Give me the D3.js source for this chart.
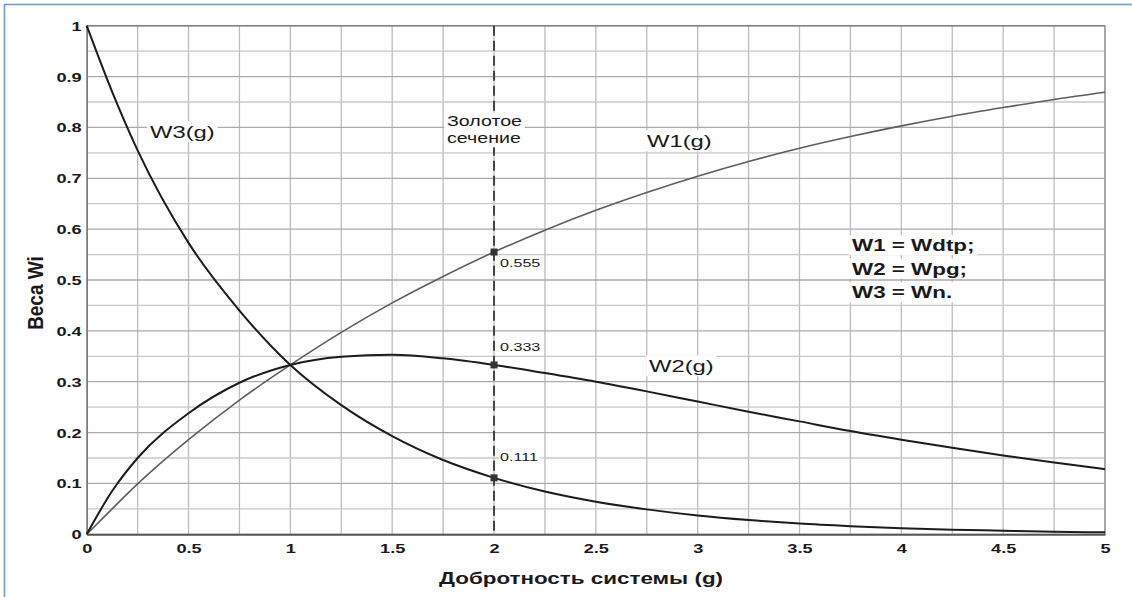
<!DOCTYPE html>
<html>
<head>
<meta charset="utf-8">
<script src="https://cdn.jsdelivr.net/npm/d3@7"></script>
<style>
  html, body { margin: 0; padding: 0; background: #fff; }
  svg { display: block; }
  text { font-family: "Liberation Sans", Arial, sans-serif; fill: #1a1a1a; }
</style>
</head>
<body>
<svg id="chart" width="1132" height="597"></svg>
<script>
// Quality factor of the system (g) and the three weights
const gValues = [0, 0.125, 0.25, 0.5, 0.75, 1, 1.25, 1.5, 1.75, 2, 2.25, 2.5, 2.75, 3, 3.25, 3.5, 3.75, 4, 4.25, 4.5, 4.75, 5];
const w1Values = [0, 0.050, 0.099, 0.186, 0.264, 0.333, 0.397, 0.455, 0.507, 0.555, 0.598, 0.637, 0.672, 0.704, 0.733, 0.759, 0.782, 0.803, 0.822, 0.839, 0.855, 0.869];
const w2Values = [0, 0.085, 0.150, 0.238, 0.298, 0.333, 0.349, 0.353, 0.346, 0.333, 0.317, 0.300, 0.281, 0.261, 0.241, 0.222, 0.203, 0.186, 0.170, 0.155, 0.141, 0.128];
const w3Values = [1, 0.870, 0.755, 0.573, 0.440, 0.333, 0.254, 0.193, 0.146, 0.111, 0.084, 0.064, 0.049, 0.037, 0.028, 0.021, 0.016, 0.012, 0.009, 0.007, 0.005, 0.004];

// Golden section point
const goldenG = 2;
const goldenValues = [0.555, 0.333, 0.111];
const goldenLabels = ["0.555", "0.333", "0.111"];

// Axis ticks
const xTickValues = [0, 0.5, 1, 1.5, 2, 2.5, 3, 3.5, 4, 4.5, 5];
const yTickValues = [0, 0.1, 0.2, 0.3, 0.4, 0.5, 0.6, 0.7, 0.8, 0.9, 1];
const xGridValues = d3.range(0, 5.001, 0.25);
const yGridValues = d3.range(0, 1.0001, 0.05);

const legendLines = ["W1 = Wdtp;", "W2 = Wpg;", "W3 = Wn."];
const xTitle = "Добротность системы (g)";
const yTitle = "Веса Wi";

const svg = d3.select("#chart");
const W = 1132, H = 597;
const margin = { left: 86.7, right: W - 1105, top: 25.7, bottom: H - 534.3 };
const x = d3.scaleLinear().domain([0, 5]).range([margin.left, W - margin.right]);
const y = d3.scaleLinear().domain([0, 1]).range([H - margin.bottom, margin.top]);
const SX = 1.4; // horizontal text stretch

// outer page frame
svg.append("path")
  .attr("d", `M4.5,${H} L4.5,4.5 L${W},4.5`)
  .attr("fill", "none").attr("stroke", "#6f9bd4").attr("stroke-width", 1.6);

// grid
const grid = svg.append("g");
grid.selectAll("line.v").data(xGridValues).join("line")
  .attr("x1", d => x(d)).attr("x2", d => x(d))
  .attr("y1", y(0)).attr("y2", y(1))
  .attr("stroke", "#bdbdbd").attr("stroke-width", 1.3);
grid.selectAll("line.h").data(yGridValues).join("line")
  .attr("x1", x(0)).attr("x2", x(5))
  .attr("y1", d => y(d)).attr("y2", d => y(d))
  .attr("stroke", (d, i) => i % 2 === 0 ? "#ababab" : "#c8c8c8").attr("stroke-width", 1.3);

// plot frame
svg.append("line").attr("x1", x(0)).attr("x2", x(5)).attr("y1", y(1)).attr("y2", y(1))
  .attr("stroke", "#808080").attr("stroke-width", 1.5);
svg.append("line").attr("x1", x(5)).attr("x2", x(5)).attr("y1", y(1)).attr("y2", y(0))
  .attr("stroke", "#999").attr("stroke-width", 1.5);

// axes
const xAxis = d3.axisBottom(x).tickValues(xTickValues).tickSize(0).tickFormat(d3.format("~g"));
const yAxis = d3.axisLeft(y).tickValues(yTickValues).tickSize(0).tickFormat(d3.format("~g"));
const gx = svg.append("g").attr("transform", `translate(0,${y(0)})`).call(xAxis);
const gy = svg.append("g").attr("transform", `translate(${x(0)},0)`).call(yAxis);
gx.select(".domain").attr("stroke", "#555").attr("stroke-width", 2);
gy.select(".domain").attr("stroke", "#777").attr("stroke-width", 1.5);
gx.selectAll(".tick text")
  .attr("font-size", 13).attr("font-weight", "bold").attr("fill", "#1a1a1a")
  .attr("y", 0).attr("dy", 0)
  .attr("transform", `translate(0,19) scale(${SX},1)`);
gy.selectAll(".tick text")
  .attr("font-size", 13).attr("font-weight", "bold").attr("fill", "#1a1a1a")
  .attr("x", 0).attr("dy", "0.35em")
  .attr("transform", `translate(-5,0) scale(${SX},1)`);

// helper: stretched text with optional white backing
function label(parent, str, px, py, opts = {}) {
  const g = parent.append("g").attr("transform", `translate(${px},${py}) scale(${SX},1)`);
  const t = g.append("text")
    .attr("font-size", opts.size || 14)
    .attr("font-weight", opts.weight || "normal")
    .attr("text-anchor", opts.anchor || "start")
    .text(str);
  if (opts.bg) {
    const b = t.node().getBBox();
    const p = opts.pad || 1;
    g.insert("rect", "text")
      .attr("x", b.x - p).attr("y", b.y - p + 1)
      .attr("width", b.width + 2 * p).attr("height", b.height + 2 * p - 2)
      .attr("fill", "#fff");
  }
  return g;
}

// curves
const line = d3.line().curve(d3.curveMonotoneX)
  .x((d, i) => x(gValues[i])).y(d => y(d));
const curves = svg.append("g").attr("fill", "none");
curves.append("path").attr("d", line(w1Values)).attr("stroke", "#5e5e5e").attr("stroke-width", 1.6);
curves.append("path").attr("d", line(w2Values)).attr("stroke", "#1c1c1c").attr("stroke-width", 2);
curves.append("path").attr("d", line(w3Values)).attr("stroke", "#1c1c1c").attr("stroke-width", 2);

// golden section line
svg.append("line")
  .attr("x1", x(goldenG)).attr("x2", x(goldenG)).attr("y1", y(1)).attr("y2", y(0))
  .attr("stroke", "#444").attr("stroke-width", 2).attr("stroke-dasharray", "10,5");

// labels
const labels = svg.append("g");
label(labels, "Золотое", x(goldenG) - 47, 126, { size: 14, bg: true, pad: 2 });
label(labels, "сечение", x(goldenG) - 47, 143, { size: 14, bg: true, pad: 2 });
label(labels, "W3(g)", 150, 138, { size: 17, bg: true, pad: 2 });
label(labels, "W1(g)", 647, 147, { size: 17, bg: true, pad: 2 });
label(labels, "W2(g)", 649, 372, { size: 17, bg: true, pad: 2 });
legendLines.forEach((s, i) => label(labels, s, 852, 251 + i * 23.5, { size: 16, weight: "bold", bg: true, pad: 2 }));

// golden section markers and value labels
const valueOffsets = [15, -14, -17];
goldenValues.forEach((v, i) => {
  label(labels, goldenLabels[i], x(goldenG) + 6, y(v) + valueOffsets[i], { size: 11.5, bg: true, pad: 1 });
});
svg.append("g").selectAll("rect").data(goldenValues).join("rect")
  .attr("x", x(goldenG) - 3.5).attr("y", d => y(d) - 3.5)
  .attr("width", 7).attr("height", 7).attr("fill", "#333");

// axis titles
label(svg, xTitle, 581, 584, { size: 16, weight: "bold", anchor: "middle" });
svg.append("g").attr("transform", "translate(43,293) scale(1.2,1) rotate(-90)")
  .append("text").attr("font-size", 19).attr("font-weight", "bold").attr("text-anchor", "middle")
  .text(yTitle);
</script>
</body>
</html>
